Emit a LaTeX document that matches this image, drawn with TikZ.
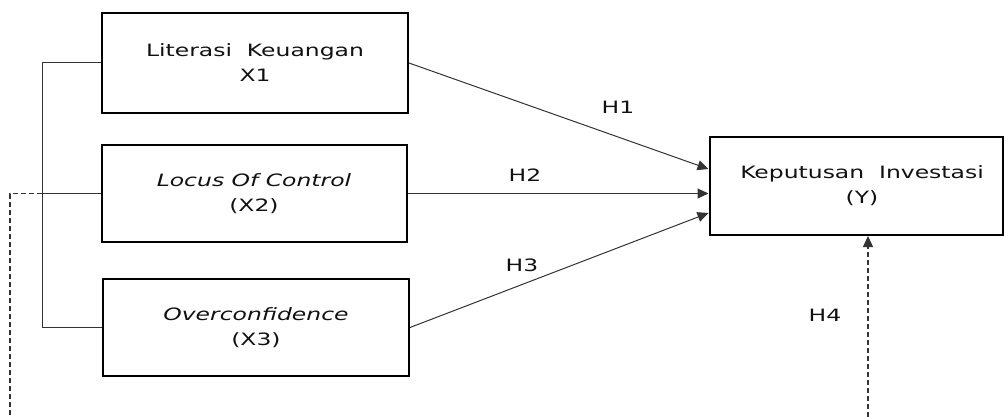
\documentclass[tikz,border=0pt]{standalone}
\usepackage{fontspec}
\setmainfont{DejaVu Sans}[FakeStretch=1.38]
\usetikzlibrary{arrows.meta}
\definecolor{txt}{HTML}{111111}
\definecolor{ln}{HTML}{333333}
\tikzset{
  varbox/.style={draw=black, line width=2pt, minimum width=#1, minimum height=97pt, inner sep=0pt,
    align=center, text=txt, font=\fontsize{17pt}{25pt}\selectfont},
  conn/.style={draw=ln, line width=1pt},
  tip/.style={-{Triangle[length=11pt,width=10pt]}},
  arr/.style={conn, tip},
  dsh/.style={draw=ln, line width=1.2pt, dash pattern=on 5pt off 3pt},
  hlab/.style={text=txt, font=\fontsize{17pt}{20pt}\selectfont, inner sep=0pt}
}
\begin{document}
\begin{tikzpicture}[x=1pt,y=-1pt]
\useasboundingbox (0,0) rectangle (1004,417);
% boxes
\node[varbox=306pt, minimum height=100pt] (x1) at (255,63) {Literasi\ \ Keuangan\\X1};
\node[varbox=305pt] (x2) at (254,193.5) {\itshape Locus Of Control\\(X2)};
\node[varbox=306pt] (x3) at (256,327.5) {\itshape Overconfidence\\(X3)};
\node[varbox=293pt, minimum height=98pt] (y) at (856,186) {\hspace*{12pt}Keputusan\ \ Investasi\\\hspace*{12pt}(Y)};
% bracket
\coordinate (b1) at (42,63);
\coordinate (b2) at (42,193.5);
\coordinate (b3) at (42,327.5);
\draw[conn] (x1.west) -- (b1) -- (b3) -- (x3.west);
\draw[conn] (x2.west) -- (b2);
% dashed moderation path
\coordinate (d1) at (10,193.5);
\coordinate (d2) at (10,417);
\coordinate (d3) at (868,417);
\draw[dsh] (b2) -- (d1) -- (d2);
\draw[dsh, tip] (d3) -- (d3 |- y.south);
% hypotheses arrows
\draw[arr] (x1.east) -- ([yshift=17pt]y.west);
\draw[arr] (x2.east) -- (x2.east -| y.west);
\draw[arr] (x3.east) -- ([yshift=-27pt]y.west);
% labels
\node[hlab] (h1) at (618,107) {H1};
\node[hlab] (h2) at (525,175) {H2};
\node[hlab] (h3) at (522,265) {H3};
\node[hlab] (h4) at (825,315) {H4};
\end{tikzpicture}
\end{document}
